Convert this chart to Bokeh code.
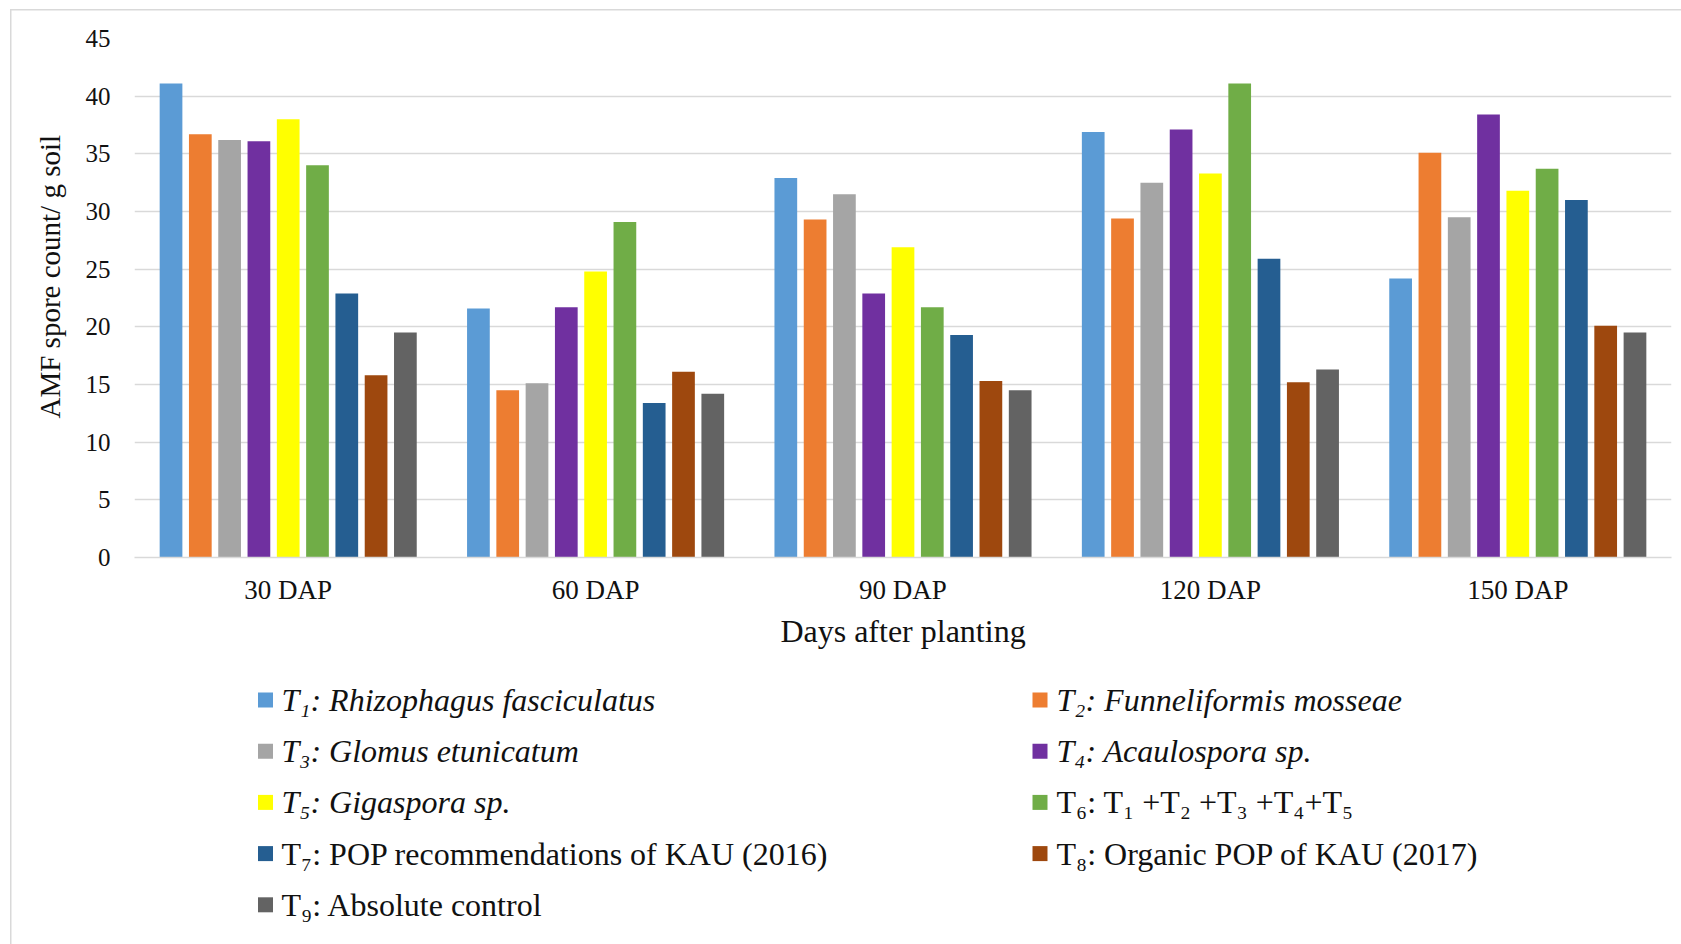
from bokeh.plotting import figure
from bokeh.models import Range1d, FixedTicker, ColumnDataSource, Title
from bokeh.transform import dodge
from bokeh.layouts import column
from bokeh.core.properties import value
from bokeh.embed import file_html
from bokeh.resources import INLINE

# --- data: AMF spore count per g soil at each sampling stage ---
stages = ["30 DAP", "60 DAP", "90 DAP", "120 DAP", "150 DAP"]
t1 = [41.1, 21.6, 32.9, 36.9, 24.2]
t2 = [36.7, 14.5, 29.3, 29.4, 35.1]
t3 = [36.2, 15.1, 31.5, 32.5, 29.5]
t4 = [36.1, 21.7, 22.9, 37.1, 38.4]
t5 = [38.0, 24.8, 26.9, 33.3, 31.8]
t6 = [34.0, 29.1, 21.7, 41.1, 33.7]
t7 = [22.9, 13.4, 19.3, 25.9, 31.0]
t8 = [15.8, 16.1, 15.3, 15.2, 20.1]
t9 = [19.5, 14.2, 14.5, 16.3, 19.5]

series = [t1, t2, t3, t4, t5, t6, t7, t8, t9]
labels = [
    "T\u2081: Rhizophagus fasciculatus",
    "T\u2082: Funneliformis mosseae",
    "T\u2083: Glomus etunicatum",
    "T\u2084: Acaulospora sp.",
    "T\u2085: Gigaspora sp.",
    "T\u2086: T\u2081 +T\u2082 +T\u2083 +T\u2084+T\u2085",
    "T\u2087: POP recommendations of KAU (2016)",
    "T\u2088: Organic POP of KAU (2017)",
    "T\u2089: Absolute control",
]
label_styles = ["italic"] * 5 + ["normal"] * 4
colors = ["#5B9BD5", "#ED7D31", "#A5A5A5", "#7030A0", "#FFFF00",
          "#70AD47", "#255E91", "#9E480E", "#636363"]

FONT = "Liberation Serif"
TEXT = "#111111"
GRID = "#d9d9d9"
W = 1681
H_MAIN = 670
H_LEG = 944 - H_MAIN
FRAME_L, FRAME_R = 134, 1671

# --- main clustered column chart ---
p = figure(x_range=stages, y_range=Range1d(0, 45), width=W, height=H_MAIN,
           output_backend="svg", toolbar_location=None,
           min_border_left=FRAME_L, min_border_right=W - FRAME_R,
           min_border_top=38, min_border_bottom=H_MAIN - 557)
p.outline_line_color = None
p.background_fill_color = None
p.border_fill_color = None

pitch = 0.0953
bar_w = 0.0739
for i, (vals, col) in enumerate(zip(series, colors)):
    src = ColumnDataSource(dict(x=stages, top=vals))
    p.vbar(x=dodge("x", (i - 4) * pitch, range=p.x_range), top="top",
           width=bar_w, source=src, fill_color=col, line_color=None)

p.xgrid.grid_line_color = None
p.ygrid.grid_line_color = GRID
p.ygrid.grid_line_width = 1.3

p.yaxis.ticker = FixedTicker(ticks=list(range(0, 46, 5)))
p.yaxis.axis_line_color = None
p.yaxis.major_tick_line_color = None
p.yaxis.minor_tick_line_color = None
p.yaxis.major_tick_out = 0
p.yaxis.major_label_standoff = 24
p.yaxis.major_label_text_font = FONT
p.yaxis.major_label_text_font_size = "25px"
p.yaxis.major_label_text_color = TEXT

# vertical axis title, sitting a little above the frame centre
p.add_layout(Title(text="AMF spore count/ g soil", align="left", vertical_align="bottom",
                   offset=139, standoff=34, text_font=FONT, text_font_size="29px",
                   text_font_style="normal", text_color=TEXT), "left")

p.xaxis.axis_line_color = GRID
p.xaxis.axis_line_width = 1.5
p.xaxis.major_tick_line_color = None
p.xaxis.minor_tick_line_color = None
p.xaxis.major_tick_out = 0
p.xaxis.major_label_standoff = 17
p.xaxis.major_label_text_font = FONT
p.xaxis.major_label_text_font_size = "27px"
p.xaxis.major_label_text_color = TEXT
p.xaxis.axis_label = "Days after planting"
p.xaxis.axis_label_text_font = FONT
p.xaxis.axis_label_text_font_size = "32px"
p.xaxis.axis_label_text_font_style = "normal"
p.xaxis.axis_label_text_color = TEXT
p.xaxis.axis_label_standoff = 5

# --- legend panel below the chart, in page-pixel coordinates ---
leg = figure(width=W, height=H_LEG, x_range=Range1d(FRAME_L, FRAME_R),
             y_range=Range1d(944, H_MAIN), x_axis_type=None, y_axis_type=None,
             output_backend="svg", toolbar_location=None,
             min_border_left=FRAME_L, min_border_right=W - FRAME_R,
             min_border_top=0, min_border_bottom=0)
leg.grid.visible = False
leg.outline_line_color = None
leg.background_fill_color = None
leg.border_fill_color = None

col_sq = [265.0, 1039.5]
col_tx = [281.0, 1056.0]
row_y = [699.5, 750.7, 801.9, 853.1, 904.3]
sq_x, sq_y, tx_x, tx_y = [], [], [], []
for k in range(len(labels)):
    r, c = divmod(k, 2)
    sq_x.append(col_sq[c])
    sq_y.append(row_y[r])
    tx_x.append(col_tx[c])
    tx_y.append(row_y[r])

leg_src = ColumnDataSource(dict(sx=sq_x, sy=sq_y, tx=tx_x, ty=tx_y,
                                label=labels, style=label_styles, color=colors))
leg.rect(x="sx", y="sy", width=15, height=15, fill_color="color",
         line_color=None, source=leg_src)
leg.text(x="tx", y="ty", text="label", text_font=value(FONT), text_font_size="32px",
         text_font_style="style", text_baseline="middle", text_align="left",
         text_color=TEXT, source=leg_src)

# light chart-area border along the left and top edges
border = {
    "background-color": "white",
    "background-image": f"linear-gradient({GRID}, {GRID}), linear-gradient({GRID}, {GRID})",
    "background-size": "1.5px 100%, 100% 1.5px",
    "background-position": "9.5px 9px, 9.5px 9px",
    "background-repeat": "no-repeat",
}
layout = column(p, leg, spacing=0, styles=border)
open("out.html", "w").write(file_html(layout, INLINE))
